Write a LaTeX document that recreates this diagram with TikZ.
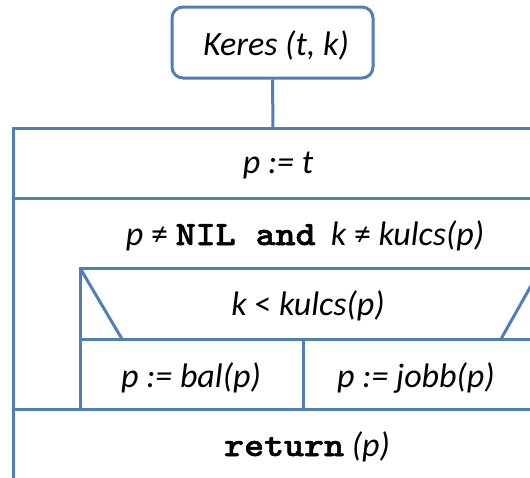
\documentclass[tikz,border=0pt]{standalone}
\usepackage{fontspec}
\setmainfont{Carlito}
\newfontfamily\cour{lmmonolt10-bold}[Extension=.otf, FakeStretch=1.12, FakeBold=1.5]
\newcommand{\kw}[1]{{\cour\fontsize{34}{40}\selectfont #1}}
\definecolor{ln}{RGB}{79,126,184}
\tikzset{
  frame/.style={draw=ln, line width=3pt},
  txt/.style={anchor=base, inner sep=0pt, font=\fontsize{34}{40}\selectfont},
}
\begin{document}
\begin{tikzpicture}[x=1pt,y=-1pt]
\useasboundingbox (0,0) rectangle (530,477);
\clip (0,0) rectangle (530,477);
% head box
\node[frame, rounded corners=11pt, minimum width=201pt, minimum height=71pt, inner sep=0pt] (head) at (272.5,42.5) {};
\node[txt] (headtxt) at (276,55) {\itshape Keres (t, k)};
% coordinates of the structogram
\coordinate (top) at (273,128);
\draw[frame] (head.south) -- (top);
% outer frame
\draw[frame] (13,485) -- (13,128) -- (540,128);
\draw[frame] (13,198) -- (540,198);
\draw[frame] (13,409) -- (540,409);
% inner selection
\draw[frame] (540,268) -- (80,268) -- (80,409);
\draw[frame] (80,339) -- (540,339);
\draw[frame] (303,339) -- (303,411);
\draw[frame] (80,268) -- (122,339);
\draw[frame] (501,339) -- (541,268);
% texts
\node[txt] (assign) at (278,173) {\itshape p := t};
\node[txt] (cond) at (305,245) {{\itshape p} ≠ \kw{NIL and}\hspace{0.45em}{\itshape k} ≠ {\itshape kulcs(p)}};
\node[txt] (sel) at (308,315) {{\itshape k} < {\itshape kulcs(p)}};
\node[txt] (left) at (191,387) {\itshape p := bal(p)};
\node[txt] (right) at (416,387) {\itshape p := jobb(p)};
\node[txt] (ret) at (307,456) {\kw{return} {\itshape (p)}};
\end{tikzpicture}
\end{document}
